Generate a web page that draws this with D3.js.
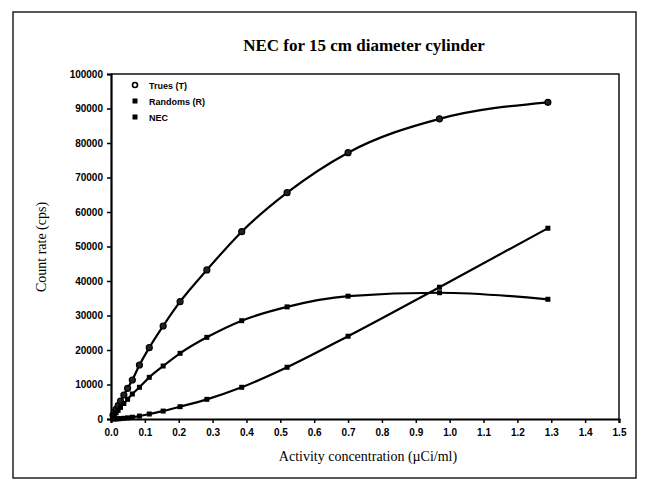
<!DOCTYPE html>
<html><head><meta charset="utf-8">
<script src="https://cdn.jsdelivr.net/npm/d3@7"></script>
<style>body{margin:0;background:#fff}</style>
</head><body>
<svg id="c" width="648" height="487"></svg>
<script>
const activity = [0.006,0.010,0.015,0.021,0.028,0.038,0.049,0.063,0.084,0.113,0.154,0.204,0.283,0.386,0.52,0.70,0.97,1.29];
const trues    = [1100,1900,2800,3900,5200,6960,8900,11300,15650,20670,26960,34000,43200,54300,65600,77200,87000,91800];
const randoms  = [8,20,40,70,120,200,330,520,850,1450,2300,3570,5700,9190,15000,24000,38200,55300];
const nec      = [700,1200,1800,2500,3350,4500,5700,7250,9190,12080,15360,19040,23670,28500,32500,35600,36600,34700];
const xTicks = ["0.0","0.1","0.2","0.3","0.4","0.5","0.6","0.7","0.8","0.9","1.0","1.1","1.2","1.3","1.4","1.5"];
const yTicks = [0,10000,20000,30000,40000,50000,60000,70000,80000,90000,100000];
const seriesNames = ["Trues (T)","Randoms (R)","NEC"];

const svg = d3.select("#c");
const L=111, R=619, T=74, B=419;
const x = d3.scaleLinear().domain([0,1.5]).range([L,R]);
const y = d3.scaleLinear().domain([0,100000]).range([B,T]);

svg.append("rect").attr("x",13).attr("y",12).attr("width",623).attr("height",466)
  .attr("fill","none").attr("stroke","#222").attr("stroke-width",1.5);

svg.append("path").attr("d",`M${L},${T}H${R}V${B}`).attr("fill","none").attr("stroke","#111").attr("stroke-width",1.5);

const gx = svg.append("g").attr("transform",`translate(0,${B})`)
  .call(d3.axisBottom(x).tickValues(xTicks.map(Number)).tickFormat((d,i)=>xTicks[i]).tickSize(4).tickPadding(6));
const gy = svg.append("g").attr("transform",`translate(${L},0)`)
  .call(d3.axisLeft(y).tickValues(yTicks).tickFormat(d3.format("d")).tickSize(4).tickPadding(4));
[gx,gy].forEach(g=>{
  g.select(".domain").attr("stroke","#000").attr("stroke-width",2.2);
  g.selectAll(".tick line").attr("stroke","#000").attr("stroke-width",1.5);
  g.selectAll("text").attr("font-family","Liberation Sans, Arial, sans-serif").attr("font-weight","bold").attr("font-size",10).attr("fill","#000");
});

const line = d3.line().x(d=>x(d[0])).y(d=>y(d[1])).curve(d3.curveMonotoneX);
const data = [trues,randoms,nec].map(s=>activity.map((a,i)=>[a,s[i]]));
data.forEach(d=>{
  svg.append("path").datum(d).attr("d",line).attr("fill","none").attr("stroke","#000").attr("stroke-width",2.2);
});
svg.append("g").selectAll("circle").data(data[0]).join("circle")
  .attr("cx",d=>x(d[0])).attr("cy",d=>y(d[1])).attr("r",3).attr("fill","#222").attr("stroke","#000").attr("stroke-width",1.2);
[data[1],data[2]].forEach(d=>{
  svg.append("g").selectAll("rect").data(d).join("rect")
    .attr("x",p=>x(p[0])-2.5).attr("y",p=>y(p[1])-2.5).attr("width",5).attr("height",5).attr("fill","#000");
});

const lg = svg.append("g");
seriesNames.forEach((n,i)=>{
  const yy = 85+i*16;
  if(i===0) lg.append("circle").attr("cx",135).attr("cy",yy).attr("r",2.5).attr("fill","#fff").attr("stroke","#000").attr("stroke-width",1.6);
  else lg.append("rect").attr("x",132.5).attr("y",yy-2.5).attr("width",5).attr("height",5).attr("fill","#000");
  lg.append("text").attr("x",149).attr("y",yy+3.5).text(n)
    .attr("font-family","Liberation Sans, Arial, sans-serif").attr("font-weight","bold").attr("font-size",9);
});

svg.append("text").attr("x",364).attr("y",51).attr("text-anchor","middle")
  .attr("font-family","Liberation Serif, Times New Roman, serif").attr("font-weight","bold").attr("font-size",17)
  .text("NEC for 15 cm diameter cylinder");
svg.append("text").attr("x",368).attr("y",461).attr("text-anchor","middle")
  .attr("font-family","Liberation Serif, Times New Roman, serif").attr("font-size",14)
  .text("Activity concentration (µCi/ml)");
svg.append("text").attr("transform","translate(46,247) rotate(-90)").attr("text-anchor","middle")
  .attr("font-family","Liberation Serif, Times New Roman, serif").attr("font-size",14)
  .text("Count rate (cps)");
</script>
</body></html>
